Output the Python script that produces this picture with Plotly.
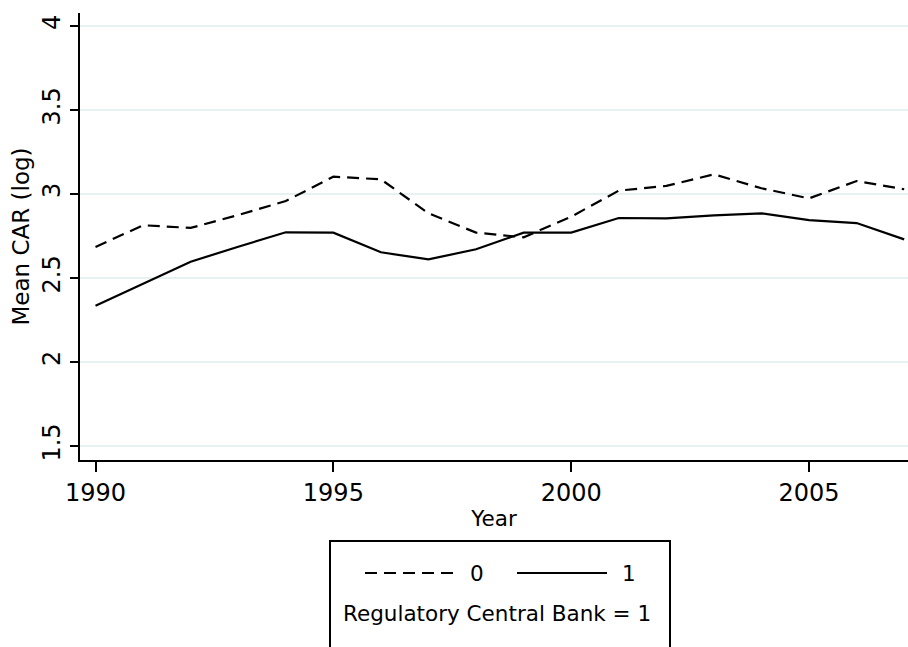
import plotly.graph_objects as go

# Mean capital adequacy ratio (log) by year, split by regulatory central bank status
years = list(range(1990, 2008))
car_rcb0 = [2.685, 2.814, 2.798, 2.875, 2.958, 3.103, 3.087, 2.885, 2.770, 2.742,
            2.865, 3.020, 3.048, 3.117, 3.034, 2.974, 3.077, 3.028]
car_rcb1 = [2.335, 2.465, 2.597, 2.686, 2.772, 2.770, 2.653, 2.611, 2.671, 2.770,
            2.770, 2.857, 2.855, 2.873, 2.885, 2.845, 2.827, 2.730]

x_ticks = [1990, 1995, 2000, 2005]
y_ticks = [1.5, 2, 2.5, 3, 3.5, 4]
y_tick_labels = ["1.5", "2", "2.5", "3", "3.5", "4"]

FONT = "DejaVu Sans"
DASH = "12px,7px"
LW = 2.2

fig = go.Figure()
fig.add_trace(go.Scatter(x=years, y=car_rcb0, mode="lines", name="0",
                         line=dict(color="black", width=LW, dash=DASH),
                         showlegend=False))
fig.add_trace(go.Scatter(x=years, y=car_rcb1, mode="lines", name="1",
                         line=dict(color="black", width=LW),
                         showlegend=False))

# Legend box drawn below the plot, with its caption under the entries
L, R, T, B = 80, 908, 13, 460
W, H = R - L, B - T
px = lambda v: (v - L) / W
py = lambda v: (B - v) / H

shapes = [
    dict(type="rect", xref="paper", yref="paper",
         x0=px(330), x1=px(670), y0=py(541), y1=py(700),
         line=dict(color="black", width=2), fillcolor="white", layer="above"),
    dict(type="line", xref="paper", yref="paper",
         x0=px(365), x1=px(455), y0=py(573), y1=py(573),
         line=dict(color="black", width=LW, dash=DASH)),
    dict(type="line", xref="paper", yref="paper",
         x0=px(517), x1=px(607), y0=py(573), y1=py(573),
         line=dict(color="black", width=LW)),
]
annotations = [
    dict(text="0", x=px(477), y=py(573), xref="paper", yref="paper",
         showarrow=False, xanchor="center", yanchor="middle",
         font=dict(family=FONT, size=21.5, color="black")),
    dict(text="1", x=px(629), y=py(573), xref="paper", yref="paper",
         showarrow=False, xanchor="center", yanchor="middle",
         font=dict(family=FONT, size=21.5, color="black")),
    dict(text="Regulatory Central Bank = 1", x=px(497), y=py(613),
         xref="paper", yref="paper", showarrow=False,
         xanchor="center", yanchor="middle",
         font=dict(family=FONT, size=21.5, color="black")),
]

fig.update_layout(
    width=908, height=647,
    margin=dict(l=L, r=908 - R, t=T, b=647 - B, pad=0),
    paper_bgcolor="white", plot_bgcolor="white",
    font=dict(family=FONT, size=21, color="black"),
    shapes=shapes, annotations=annotations,
    xaxis=dict(
        range=[1989.674, 2007.08], tickvals=x_ticks,
        ticks="outside", ticklen=10, tickwidth=2, tickcolor="black",
        showline=True, linecolor="black", linewidth=2,
        showgrid=False, zeroline=False,
        tickfont=dict(family=FONT, size=24),
        title=dict(text="Year", standoff=5, font=dict(family=FONT, size=21.5)),
    ),
    yaxis=dict(
        range=[1.417, 4.077], tickvals=y_ticks, ticktext=y_tick_labels,
        tickangle=-90,
        ticks="outside", ticklen=8, tickwidth=2, tickcolor="black",
        showline=True, linecolor="black", linewidth=2,
        showgrid=True, gridcolor="#e8f1f1", gridwidth=1.5, zeroline=False,
        tickfont=dict(family=FONT, size=24),
        title=dict(text="Mean CAR (log)", standoff=2, font=dict(family=FONT, size=23)),
    ),
)

fig.write_html("out.html")
